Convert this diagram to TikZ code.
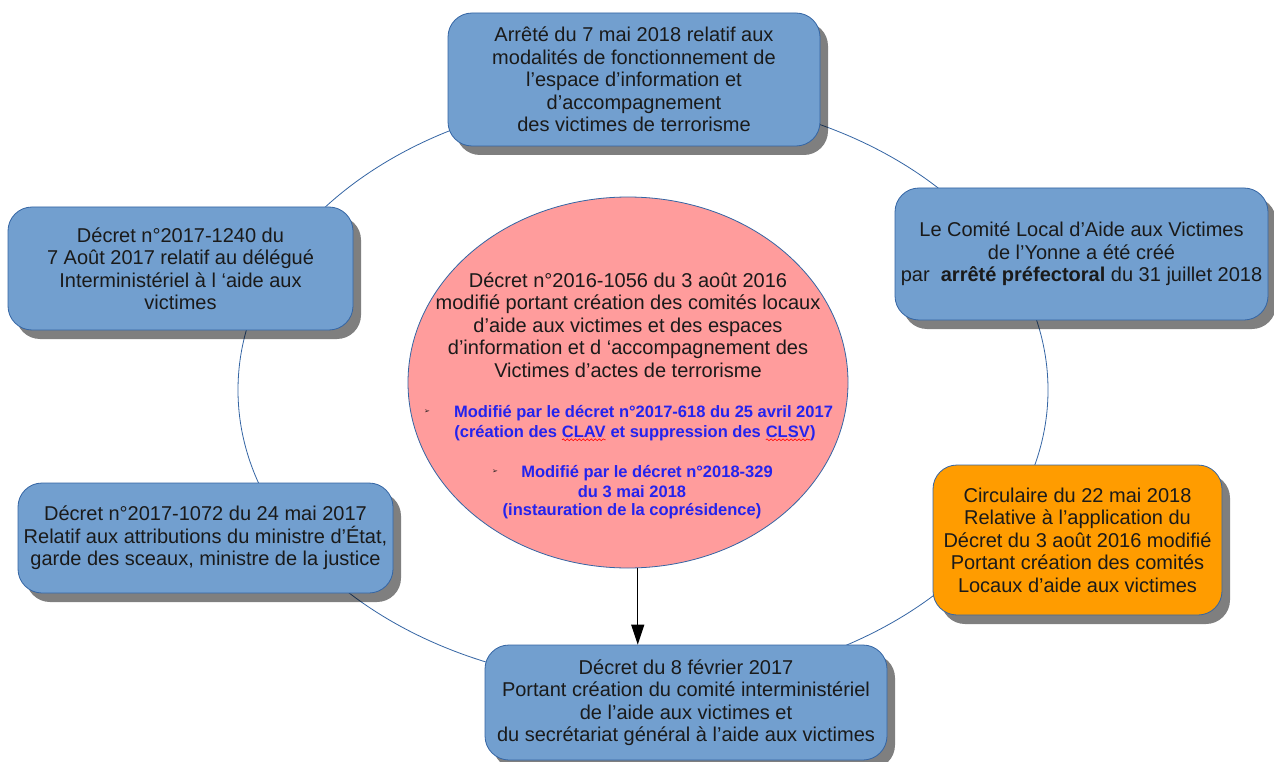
\documentclass[tikz,border=0pt]{standalone}
\usepackage{fontspec}
\setmainfont{Liberation Sans}
\newfontfamily\dejavu{DejaVu Sans}
\usetikzlibrary{shadows,arrows.meta,shapes.geometric,decorations.pathmorphing}

\definecolor{boxblue}{HTML}{729FCF}
\definecolor{edgeblue}{HTML}{3465A4}
\definecolor{pinkfill}{HTML}{FF9C9C}
\definecolor{orangefill}{HTML}{FF9C00}
\definecolor{textblue}{HTML}{2323EE}
\definecolor{ink}{HTML}{1A1A1A}

% wavy red spell-check underline
\newcommand\squig[1]{\tikz[baseline=(w.base)]{\node[inner sep=0pt,outer sep=0pt](w){#1};\draw[red,line width=0.6pt,decorate,decoration={snake,amplitude=0.9pt,segment length=4pt}]([yshift=-2.5pt]w.south west)--([yshift=-2.5pt]w.south east);}}
% small arrowhead bullet
\newcommand\puce{{\dejavu\fontsize{7}{8}\selectfont ➢}}

\tikzset{
  legal/.style={rectangle, rounded corners=24pt, draw=edgeblue, line width=0.8pt,
    fill=boxblue, text=ink, align=center, font=\fontsize{20}{22.5}\selectfont,
    drop shadow={shadow xshift=8pt, shadow yshift=-9pt, fill=black, opacity=0.5}},
  circular/.style={rectangle, rounded corners=24pt, draw=edgeblue, line width=0.8pt,
    fill=orangefill, text=ink, align=center, font=\fontsize{20}{22.5}\selectfont,
    drop shadow={shadow xshift=8pt, shadow yshift=-9pt, fill=black, opacity=0.5}},
  coretxt/.style={align=center, text=ink, font=\fontsize{20}{22.5}\selectfont, inner sep=0pt},
  amend/.style={text=textblue, font=\fontsize{16.5}{19.5}\selectfont\bfseries, inner sep=0pt},
  ring/.style={draw=edgeblue, line width=0.8pt},
  link/.style={draw=black, line width=1.3pt, -{Triangle[width=13pt,length=20pt]}}
}

\begin{document}
\begin{tikzpicture}[x=1pt,y=-1pt]
\useasboundingbox (0,0) rectangle (1274,762);
\fill[white] (0,0) rectangle (1274,762);

% surrounding ring
\draw[ring] (643,390) ellipse [x radius=405, y radius=295];

% central decree
\node[ellipse, draw=edgeblue, line width=0.8pt, fill=pinkfill, minimum width=440pt,
      minimum height=371pt, inner sep=0pt] (core) at (628,382.5) {};
\node[coretxt] (coretext) at (628,325) {Décret n°2016-1056 du 3 août 2016\\
  modifié portant création des comités locaux\\
  d’aide aux victimes et des espaces\\
  d’information et d ‘accompagnement des\\
  Victimes d’actes de terrorisme};

\node[amend] (m1) at (643.5,413) {Modifié par le décret n°2017-618 du 25 avril 2017};
\node[amend] (m2) at (635,433) {(création des \squig{CLAV} et suppression des \squig{CLSV})};
\node[amend] (m3) at (647,473) {Modifié par le décret n°2018-329};
\node[amend] (m4) at (632,492) {du 3 mai 2018};
\node[amend] (m5) at (632,511) {(instauration de la coprésidence)};
\node[inner sep=0pt, text=ink] (b1) at (427,412) {\puce};
\node[inner sep=0pt, text=ink] (b2) at (495,472) {\puce};

% surrounding texts
\node[legal, minimum width=372pt, minimum height=133pt] (arrete) at (634,79.5)
  {Arrêté du 7 mai 2018 relatif aux\\ modalités de fonctionnement de\\
   l’espace d’information et\\ d’accompagnement\\ des victimes de terrorisme};

\node[legal, minimum width=373pt, minimum height=132pt] (comite) at (1081.5,254)
  {Le Comité Local d’Aide aux Victimes\\ de l’Yonne a été créé\\
   par\ \ \textbf{arrêté préfectoral} du 31 juillet 2018};

\node[legal, minimum width=345pt, minimum height=123pt] (delegue) at (180.5,268.5)
  {Décret n°2017-1240 du\\ 7 Août 2017 relatif au délégué\\
   Interministériel à l ‘aide aux\\ victimes};

\node[legal, minimum width=375pt, minimum height=110pt] (ministre) at (205.5,538)
  {Décret n°2017-1072 du 24 mai 2017\\ Relatif aux attributions du ministre d’État,\\
   garde des sceaux, ministre de la justice};

\node[circular, minimum width=289pt, minimum height=150pt] (circ) at (1077.5,540)
  {Circulaire du 22 mai 2018\\ Relative à l’application du\\
   Décret du 3 août 2016 modifié\\ Portant création des comités\\
   Locaux d’aide aux victimes};

\node[legal, minimum width=402pt, minimum height=115pt] (fevrier) at (686,702.5)
  {Décret du 8 février 2017\\ Portant création du comité interministériel\\
   de l’aide aux victimes et\\ du secrétariat général à l’aide aux victimes};

% link from the central decree
\draw[link] (core.-87) -- (core.-87 |- fevrier.north);
\end{tikzpicture}
\end{document}
